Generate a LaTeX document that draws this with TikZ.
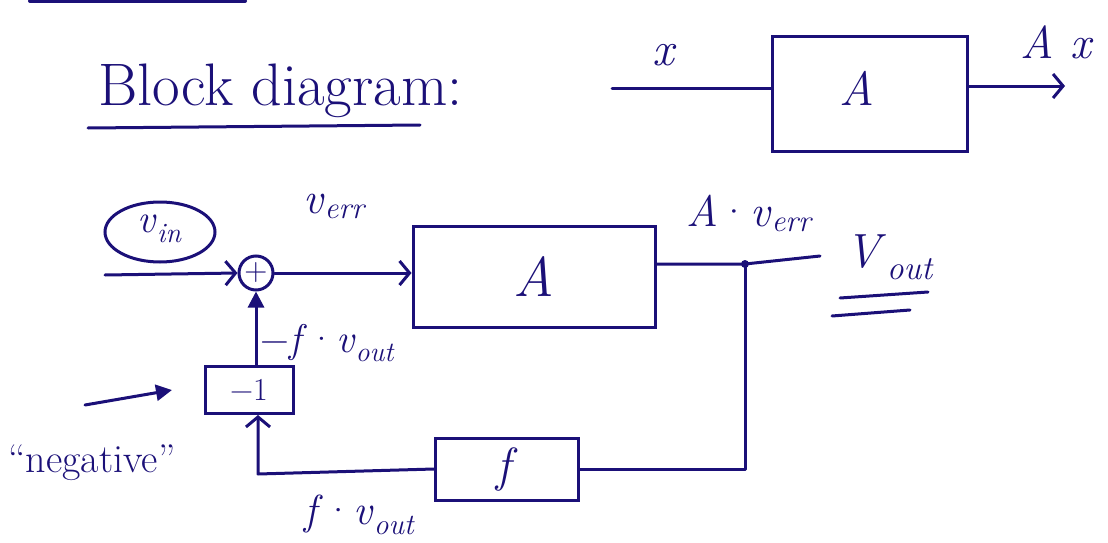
\documentclass[tikz,border=0pt]{standalone}
\usetikzlibrary{arrows.meta,shapes.geometric,calc}
\definecolor{ink}{HTML}{1B1078}
% italic symbol with an italic subscript, set in text fonts so that it scales
\newcommand\sigvar[2]{\textit{#1}\textsubscript{\textit{#2}}}
\begin{document}
\begin{tikzpicture}[x=1pt,y=-1pt,
  wire/.style={draw=ink,line width=3pt,line cap=round,line join=round},
  lbl/.style={text=ink,inner sep=0pt,font=\fontsize{44}{50}\selectfont},
  blk/.style={draw=ink,line width=3pt,rectangle,inner sep=0pt,text=ink},
  open/.style={-{Straight Barb[length=10pt,width=24pt,line width=3pt]}},
  solid tip/.style={-{Triangle[length=16pt,width=16pt]}}]
\useasboundingbox (0,0) rectangle (1108,543);

% stroke running off the top edge
\draw[wire,line width=4pt] (30,1) -- (245,1);

% heading
\node[lbl,font=\fontsize{60}{66}\selectfont,anchor=base west] (title) at (98,105) {Block diagram:};
\coordinate (ulA) at (88,128);
\coordinate (ulB) at (420,125);
\draw[wire] (ulA) -- (ulB);

% single block example
\node[blk,minimum width=195pt,minimum height=114pt] (Atop) at (870,94) {};
\node[lbl,font=\fontsize{48}{56}\selectfont] (Atxt) at (857,88) {\textit{A}};
\coordinate (xin) at (612,88);
\coordinate (xout) at (1065,86);
\draw[wire] (xin) -- (Atop.west |- xin);
\draw[wire,open] (Atop.east |- xout) -- (xout);
\node[lbl,font=\fontsize{48}{54}\selectfont] (xlbl) at (665,55) {\textit{x}};
\node[lbl,font=\fontsize{46}{52}\selectfont] (Axlbl) at (1057,42) {\textit{A x}};

% feedback loop
\node[draw=ink,line width=3pt,ellipse,minimum width=110pt,minimum height=60pt] (vin) at (160,232) {};
\node[lbl,font=\fontsize{40}{46}\selectfont] (vintxt) at (160,229) {\sigvar{v}{in}};
\coordinate (inA) at (105,275);
\node[draw=ink,line width=3pt,circle,minimum size=34pt,inner sep=0pt,text=ink,font=\fontsize{32}{34}\selectfont] (sum) at (256,273) {+};
\draw[wire,open] (inA) -- (sum.west);

\node[blk,minimum width=242pt,minimum height=101pt,font=\fontsize{56}{64}\selectfont] (A) at (534,277) {\textit{A}};
\draw[wire,open] (sum.east) -- (A.west |- sum.east);
\node[lbl] (verr) at (335,206) {\sigvar{v}{err}};

\coordinate (jn) at (745,264);
\coordinate (outend) at (820,256);
\draw[wire] (A.east |- jn) -- (jn) -- (outend);
\fill[ink] (jn) circle (4pt);
\node[lbl] (Averr) at (750,213) {\textit{A}·\sigvar{v}{err}};
\node[lbl,font=\fontsize{48}{54}\selectfont] (vout) at (890,257) {\sigvar{V}{out}};
\coordinate (u1a) at (840,298);
\coordinate (u1b) at (928,292);
\coordinate (u2a) at (832,316);
\coordinate (u2b) at (910,310);
\draw[wire] (u1a) -- (u1b);
\draw[wire] (u2a) -- (u2b);

\node[blk,minimum width=143pt,minimum height=62pt,font=\fontsize{48}{54}\selectfont] (f) at (507,469) {\textit{f}};
\draw[wire] (jn) -- (jn |- f.east) -- (f.east);

\node[blk,minimum width=88pt,minimum height=47pt,font=\fontsize{32}{36}\selectfont] (neg) at (249,390) {−1};
\coordinate (corner) at (258,474);
\draw[wire,open] (f.west) -- (corner) -- (corner |- neg.south);
\draw[wire,solid tip] (neg.north -| sum.south) -- (sum.south);

\node[lbl,font=\fontsize{40}{46}\selectfont] (nfv) at (328,343) {−\textit{f}·\sigvar{v}{out}};
\node[lbl,font=\fontsize{42}{48}\selectfont] (fv) at (360,515) {\textit{f}·\sigvar{v}{out}};

% pointer to the inverting block
\coordinate (pA) at (85,405);
\coordinate (pB) at (172,390);
\draw[wire,solid tip] (pA) -- (pB);
\node[lbl,font=\fontsize{40}{46}\selectfont] (negtxt) at (92,463) {``negative''};
\end{tikzpicture}
\end{document}
